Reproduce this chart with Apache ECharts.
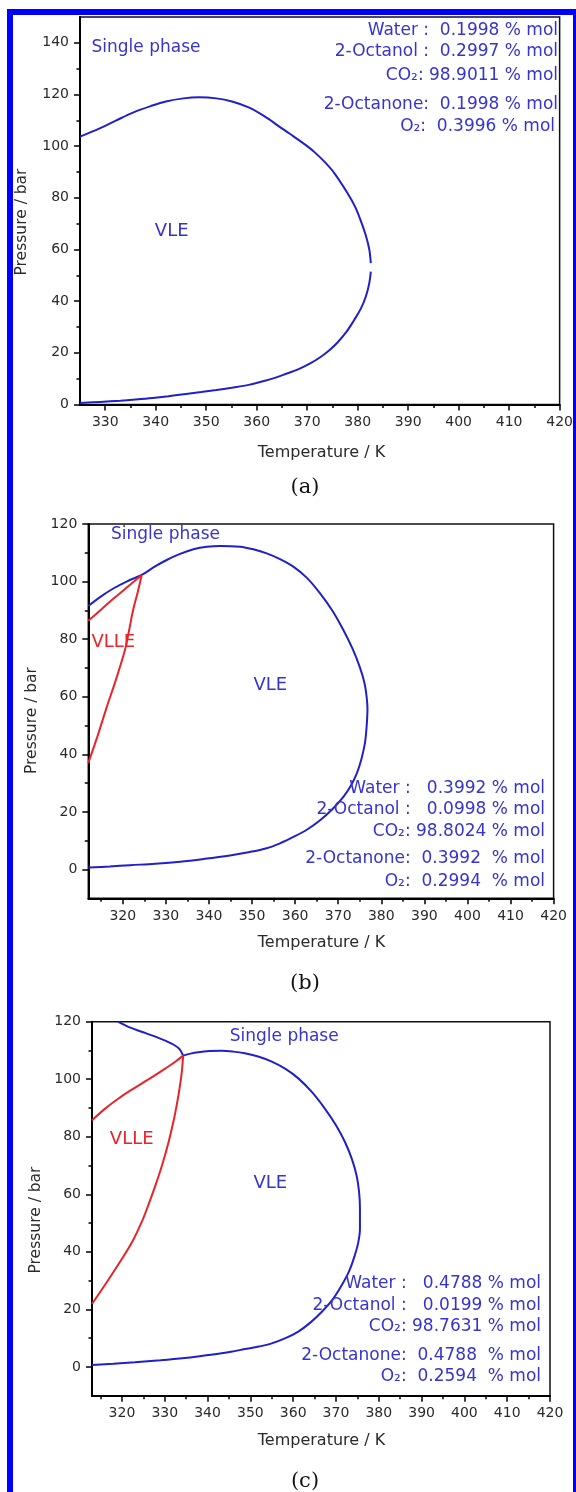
<!DOCTYPE html>
<html>
<head>
<meta charset="utf-8">
<script src="https://cdn.jsdelivr.net/npm/echarts@6/dist/echarts.min.js"></script>
<style>
html,body{margin:0;padding:0;background:#fff;}
#chart{width:576px;height:1492px;}
</style>
</head>
<body>
<div id="chart"></div>
<script>
// ---------- data (T / K, P / bar) ----------
// Panel (a)
const aUpper = [[325,103.7],[328.9,106.9],[332,109.8],[335.5,113.0],[339,115.5],[342,117.3],[345.5,118.5],[348.6,118.9],[352,118.5],[355.1,117.3],[358.4,115.0],[361.5,111.6],[364.9,107.0],[366.5,104.9],[368,102.8],[370,100.0],[371.5,97.6],[373.5,93.8],[375.4,89.5],[378,81.8],[379.5,76.5],[380.6,71.2],[381.6,65.5],[382.3,60.0],[382.6,54.7]];
const aLower = [[382.6,51.4],[382.3,47],[381.6,41.7],[380.6,37],[379.3,32.7],[377.8,28.2],[376,24.0],[374.5,21.2],[372.8,18.6],[370.5,15.8],[368.2,13.6],[366,12.0],[363.6,10.3],[361,8.9],[358.4,7.6],[355,6.5],[352,5.6],[349,4.8],[346,4.1],[342.5,3.2],[339.4,2.5],[336,1.9],[333,1.45],[329,1.0],[325,0.6]];
// Panel (b)
const bEnvelope = [[312,91.5],[314.8,94.7],[317.8,97.6],[321,100.1],[324.4,102.3],[327.2,105.0],[330.2,107.5],[333.3,109.6],[336.4,111.2],[339.5,112.1],[342.6,112.4],[347.2,112.1],[350.3,111.2],[353.4,109.8],[356.5,107.8],[359.6,105.2],[362.8,101.2],[365.8,95.9],[368.7,89.8],[371.2,83.2],[373.3,76.8],[375,70.4],[376.1,64.8],[376.6,60],[376.8,55.8],[376.7,51.9],[376.5,47.8],[376.2,43.8],[375.4,38.4],[374.3,33.3],[372.9,29.0],[371.2,25.2],[368.7,21.0],[365.8,17.1],[362.8,13.9],[359.6,11.3],[356.5,9.1],[353.4,7.4],[349.2,6.0],[344.9,4.9],[339,3.7],[333.3,2.7],[327.5,2.0],[321.7,1.5],[317,1.05],[312,0.7]];
const bVlleUpper = [[312,86.4],[315,90.3],[317.8,94.0],[321,98.0],[324.4,102.3]];
const bVlleLower = [[324.4,102.3],[323.5,96.5],[322.4,90.1],[321.5,83.3],[320.5,76.2],[318.5,66.3],[316.3,56.5],[314.2,46.6],[312,37.0]];
// Panel (c)
const cUpperLeft = [[319.1,120],[321.5,118.2],[324.6,116.5],[327.5,115.0],[330.1,113.4],[332.2,111.9],[333.5,110.4],[334.3,108.2]];
const cEnvelope = [[334.3,108.2],[336,108.9],[337.8,109.4],[340.5,109.8],[343.3,109.9],[346,109.6],[348.7,109.0],[352,107.8],[355,106.1],[358.2,103.6],[361.2,100.3],[364.4,95.5],[367.4,89.8],[370,84.0],[372.1,78.2],[373.7,72.3],[374.8,66.6],[375.4,60.8],[375.6,55],[375.6,48],[375.2,43.2],[374.4,38.8],[373.1,33.4],[371.3,28.3],[369.2,23.4],[366.7,19.2],[364,15.4],[361.2,12.3],[358.2,10.0],[355,8.2],[352,7.1],[348.7,6.2],[345.5,5.3],[342.5,4.6],[338.5,3.8],[334.7,3.1],[329,2.3],[323,1.6],[318,1.1],[313,0.7]];
const cVlleUpper = [[313,85.7],[316,89.7],[319.2,93.3],[322,96.1],[324.6,98.5],[327.4,101.1],[330.1,103.7],[332.3,105.9],[334.3,108.2]];
const cVlleLower = [[334.3,108.2],[333.9,101.5],[333.2,94.5],[332.2,86.5],[330.9,78.2],[329.4,70.3],[327.8,63],[326.2,56.4],[324.6,50.3],[322.5,43.8],[320,37.6],[316.6,29.8],[313,21.9]];

// ---------- ticks ----------
const xMajorA = [330,340,350,360,370,380,390,400,410,420];
const xMinorA = [335,345,355,365,375,385,395,405,415];
const yMajorA = [0,20,40,60,80,100,120,140];
const yMinorA = [10,30,50,70,90,110,130];
const xMajorBC = [320,330,340,350,360,370,380,390,400,410,420];
const xMinorBC = [315,325,335,345,355,365,375,385,395,405,415];
const yMajorBC = [0,20,40,60,80,100,120];
const yMinorBC = [10,30,50,70,90,110];

// ---------- texts ----------
const compA = ['Water :  0.1998 % mol','2-Octanol :  0.2997 % mol','CO\u2082: 98.9011 % mol','2-Octanone:  0.1998 % mol','O\u2082:  0.3996 % mol'];
const compB = ['Water :   0.3992 % mol','2-Octanol :   0.0998 % mol','CO\u2082: 98.8024 % mol','2-Octanone:  0.3992  % mol','O\u2082:  0.2994  % mol'];
const compC = ['Water :   0.4788 % mol','2-Octanol :   0.0199 % mol','CO\u2082: 98.7631 % mol','2-Octanone:  0.4788  % mol','O\u2082:  0.2594  % mol'];
const panelTitles = ['(a)','(b)','(c)'];

const FONT = 'DejaVu Sans';
const BLUE_LINE = '#2020c8';
const BLUE_TEXT = '#3434d0';
const RED = '#e8242a';

// ---------- layout ----------
const panels = [
  {grid:{left:80, top:17, width:484, height:387.5}, xmin:325, xmax:420, ymin:0, ymax:150,
   xMaj:xMajorA, xMin:xMinorA, yMaj:yMajorA, yMin:yMinorA},
  {grid:{left:88.3, top:524, width:465.3, height:374.3}, xmin:312, xmax:420, ymin:-10, ymax:120,
   xMaj:xMajorBC, xMin:xMinorBC, yMaj:yMajorBC, yMin:yMinorBC},
  {grid:{left:92, top:1021.7, width:458, height:374}, xmin:313, xmax:420, ymin:-10, ymax:120,
   xMaj:xMajorBC, xMin:xMinorBC, yMaj:yMajorBC, yMin:yMinorBC}
];

const grids = [], xAxes = [], yAxes = [];
panels.forEach((p, g) => {
  grids.push(Object.assign({show:true, borderColor:'#111', borderWidth:1.5, containLabel:false}, p.grid));
  xAxes.push({type:'value', gridIndex:g, min:p.xmin, max:p.xmax, position:'bottom',
    axisLine:{show:true, onZero:false, lineStyle:{color:'#000', width:2}},
    axisTick:{show:true, inside:false, length:6, customValues:p.xMaj, lineStyle:{color:'#000', width:1.5}},
    axisLabel:{show:true, customValues:p.xMaj, margin:11, fontSize:14, fontFamily:FONT, color:'#2a2a2a'},
    splitLine:{show:false}});
  xAxes.push({type:'value', gridIndex:g, min:p.xmin, max:p.xmax, position:'bottom', offset:0,
    axisLine:{show:false, onZero:false},
    axisTick:{show:true, inside:false, length:3.5, customValues:p.xMin, lineStyle:{color:'#000', width:1.5}},
    axisLabel:{show:false}, splitLine:{show:false}});
  yAxes.push({type:'value', gridIndex:g, min:p.ymin, max:p.ymax, position:'left',
    axisLine:{show:true, onZero:false, lineStyle:{color:'#000', width:2}},
    axisTick:{show:true, inside:false, length:6, customValues:p.yMaj, lineStyle:{color:'#000', width:1.5}},
    axisLabel:{show:true, customValues:p.yMaj, margin:11, fontSize:14, fontFamily:FONT, color:'#2a2a2a'},
    splitLine:{show:false}});
  yAxes.push({type:'value', gridIndex:g, min:p.ymin, max:p.ymax, position:'left', offset:0,
    axisLine:{show:false, onZero:false},
    axisTick:{show:true, inside:false, length:3.5, customValues:p.yMin, lineStyle:{color:'#000', width:1.5}},
    axisLabel:{show:false}, splitLine:{show:false}});
});

function line(g, data, color) {
  return {type:'line', xAxisIndex:2*g, yAxisIndex:2*g, data:data, showSymbol:false, symbol:'none',
    smooth:0.35, lineStyle:{color:color, width:2}, itemStyle:{color:color}, silent:true, clip:true};
}
const series = [
  line(0, aUpper, BLUE_LINE), line(0, aLower, BLUE_LINE),
  line(1, bEnvelope, BLUE_LINE), line(1, bVlleUpper, RED), line(1, bVlleLower, RED),
  line(2, cUpperLeft, BLUE_LINE), line(2, cEnvelope, BLUE_LINE), line(2, cVlleUpper, RED), line(2, cVlleLower, RED)
];

function txt(x, y, s, o) {
  o = o || {};
  return {type:'text', x:x, y:y, rotation:o.rot || 0, z:10, silent:true,
    style:{text:s, fill:o.color || BLUE_TEXT, fontSize:o.size || 17, fontFamily:o.family || FONT,
      textAlign:o.align || 'center', textVerticalAlign:'middle', align:o.align || 'center', verticalAlign:'middle'}};
}
const graphics = [];
// blue frame
graphics.push({type:'rect', z:20, silent:true, shape:{x:10, y:12, width:566, height:1500},
  style:{fill:null, stroke:'#0000ff', lineWidth:6}});
// composition blocks
const compPos = [
  {lines:compA, right:[558,558,558,558,555], ys:[30.7,51.7,76,104.3,126.7]},
  {lines:compB, right:[545,545,545,545,545], ys:[788.3,810,831.7,858.3,881.7]},
  {lines:compC, right:[541,541,541,541,541], ys:[1283.3,1306,1326.7,1356,1376.7]}
];
compPos.forEach(c => c.lines.forEach((s, i) => graphics.push(txt(c.right[i], c.ys[i], s, {align:'right', size:17}))));
// region labels
graphics.push(txt(146, 47.3, 'Single phase', {size:17}));
graphics.push(txt(171.7, 231, 'VLE', {size:18}));
graphics.push(txt(165.5, 534.5, 'Single phase', {size:17}));
graphics.push(txt(113.3, 642.5, 'VLLE', {size:18, color:RED}));
graphics.push(txt(270.3, 685.7, 'VLE', {size:18}));
graphics.push(txt(284.2, 1036.7, 'Single phase', {size:17}));
graphics.push(txt(131.7, 1139.5, 'VLLE', {size:18, color:RED}));
graphics.push(txt(270.3, 1183, 'VLE', {size:18}));
// axis names and panel titles
const xNameY = [452.7, 943.3, 1440.7];
const yNamePos = [[22, 222], [32, 720.5], [35.5, 1220]];
const titleY = [488, 983.3, 1481.7];
for (let g = 0; g < 3; g++) {
  graphics.push(txt(321.5, xNameY[g], 'Temperature / K', {size:16, color:'#2a2a2a'}));
  graphics.push(txt(yNamePos[g][0], yNamePos[g][1], 'Pressure / bar', {size:15.5, color:'#2a2a2a', rot:Math.PI/2}));
  graphics.push(txt(305, titleY[g], panelTitles[g], {size:21, color:'#111', family:'DejaVu Serif'}));
}

const chart = echarts.init(document.getElementById('chart'), null, {renderer:'canvas', width:576, height:1492});
chart.setOption({
  backgroundColor:'#ffffff',
  animation:false,
  grid:grids, xAxis:xAxes, yAxis:yAxes, series:series, graphic:graphics
});
</script>
</body>
</html>
